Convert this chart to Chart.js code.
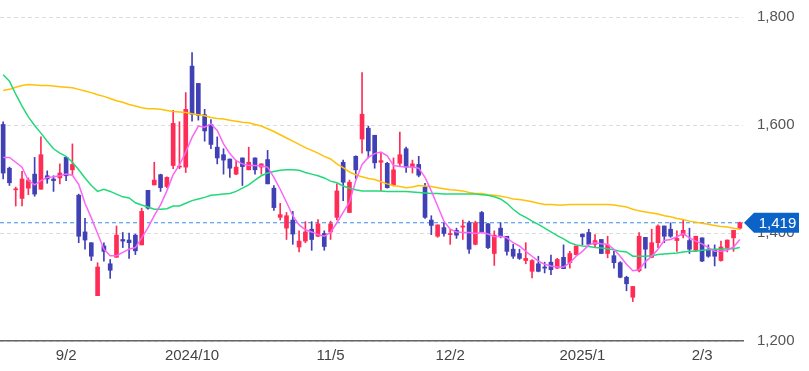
<!DOCTYPE html>
<html><head><meta charset="utf-8">
<script src="https://cdn.jsdelivr.net/npm/chart.js@4.4.1/dist/chart.umd.min.js"></script>
<style>html,body{margin:0;padding:0;background:#fff;}#wrap{width:809px;height:371px;}</style>
</head><body><div id="wrap"><canvas id="c" width="809" height="371"></canvas></div>
<script>
const openP = [
1601,1520,1480,1464,1483,1509,1481,1506,1500,1502,
1540,1517,1470,1402,1382,1284,1376,1343,1355,1388,
1387,1396,1378,1479,1489,1508,1486,1525,1522,1522,
1709,1677,1619,1601,1559,1545,1537,1509,1539,1517,
1539,1522,1536,1483,1429,1409,1424,1374,1385,1407,
1394,1399,1402,1429,1531,1438,1542,1574,1594,1581,
1531,1529,1489,1529,1556,1522,1527,1485,1424,1394,
1410,1397,1405,1411,1419,1379,1438,1417,1362,1409,
1394,1370,1362,1349,1329,1343,1337,1346,1335,1355,
1345,1360,1398,1401,1379,1388,1362,1358,1345,1318,
1281,1330,1392,1355,1382,1413,1407,1386,1396,1386,
1368,1391,1370,1370,1349,1373,1391,1409];
const highP = [
1606,1522,1485,1514,1502,1540,1578,1515,1506,1528,
1541,1565,1472,1427,1382,1345,1382,1351,1413,1401,
1400,1398,1446,1479,1531,1509,1504,1627,1606,1660,
1734,1677,1629,1610,1578,1556,1537,1534,1539,1559,
1539,1528,1553,1488,1455,1438,1440,1404,1421,1421,
1425,1404,1422,1491,1535,1498,1543,1697,1598,1581,
1548,1531,1539,1587,1559,1535,1542,1492,1432,1415,
1419,1407,1409,1424,1422,1422,1440,1418,1404,1419,
1394,1379,1370,1382,1351,1357,1346,1359,1353,1378,
1366,1376,1398,1407,1397,1388,1394,1366,1347,1320,
1301,1401,1392,1407,1415,1413,1419,1404,1425,1409,
1394,1391,1378,1378,1385,1387,1405,1420];
const lowP = [
1500,1488,1450,1450,1471,1468,1481,1492,1477,1491,
1497,1508,1382,1370,1349,1284,1348,1316,1355,1373,
1353,1360,1378,1444,1489,1477,1484,1519,1519,1512,
1607,1609,1570,1556,1528,1509,1503,1508,1488,1517,
1509,1509,1491,1442,1424,1388,1379,1365,1382,1368,
1393,1368,1388,1424,1460,1438,1501,1548,1539,1520,
1478,1483,1487,1523,1512,1511,1504,1427,1397,1392,
1394,1379,1390,1388,1362,1378,1400,1371,1340,1391,
1359,1353,1351,1343,1317,1328,1326,1323,1334,1334,
1335,1359,1378,1378,1373,1362,1354,1335,1317,1293,
1273,1328,1335,1354,1373,1382,1392,1366,1391,1362,
1366,1347,1355,1339,1348,1365,1366,1407];
const closeP = [
1511,1493,1481,1500,1498,1472,1545,1500,1497,1511,
1506,1527,1394,1387,1357,1337,1366,1331,1396,1385,
1382,1367,1440,1446,1498,1484,1503,1603,1524,1629,
1620,1618,1589,1564,1539,1535,1520,1522,1523,1531,
1517,1528,1491,1447,1434,1432,1398,1385,1402,1388,
1417,1375,1417,1478,1494,1494,1517,1620,1552,1530,
1534,1484,1517,1545,1522,1528,1507,1429,1414,1415,
1399,1399,1396,1413,1370,1419,1402,1373,1396,1394,
1366,1357,1353,1353,1349,1329,1335,1332,1351,1334,
1362,1376,1393,1379,1386,1362,1378,1345,1318,1306,
1301,1394,1370,1382,1413,1394,1394,1390,1405,1370,
1394,1348,1357,1357,1374,1387,1405,1419];
const ma5 = [
1540,1540,1531,1522,1497,1489,1497,1503,1504,1506,
1509,1507,1490,1455,1428,1399,1370,1358,1358,1364,
1370,1373,1391,1410,1432,1452,1478,1508,1526,1550,
1577,1598,1596,1602,1590,1565,1547,1534,1528,1525,
1525,1524,1522,1503,1481,1457,1432,1415,1406,1402,
1397,1394,1401,1419,1438,1457,1497,1527,1540,1547,
1550,1543,1525,1523,1522,1522,1520,1503,1478,1450,
1422,1407,1402,1401,1401,1399,1401,1398,1393,1394,
1391,1382,1376,1366,1357,1348,1342,1339,1337,1337,
1345,1357,1366,1378,1382,1380,1379,1370,1357,1342,
1330,1332,1347,1357,1370,1386,1388,1393,1399,1391,
1385,1380,1373,1366,1366,1368,1374,1388];
const ma25 = [
1693,1681,1657,1635,1615,1599,1585,1570,1556,1548,
1542,1531,1517,1502,1488,1477,1481,1477,1472,1467,
1465,1456,1452,1448,1444,1444,1445,1450,1450,1455,
1460,1463,1466,1470,1471,1472,1473,1477,1483,1489,
1498,1506,1511,1514,1516,1517,1517,1516,1512,1509,
1506,1502,1496,1493,1487,1483,1480,1478,1478,1478,
1478,1477,1477,1477,1477,1476,1475,1474,1473,1473,
1472,1472,1472,1472,1472,1472,1471,1470,1467,1463,
1455,1444,1435,1429,1422,1416,1409,1402,1395,1389,
1382,1378,1376,1375,1373,1372,1371,1369,1366,1365,
1357,1357,1357,1358,1360,1361,1362,1363,1365,1366,
1366,1368,1369,1370,1370,1371,1371,1373];
const ma75 = [
1664,1666,1670,1673,1675,1674,1673,1673,1672,1671,
1670,1669,1666,1663,1660,1656,1653,1649,1645,1642,
1638,1635,1632,1630,1630,1629,1627,1625,1624,1623,
1621,1619,1617,1614,1612,1611,1609,1607,1605,1604,
1601,1598,1593,1588,1582,1576,1570,1564,1558,1553,
1548,1542,1537,1528,1521,1513,1508,1504,1501,1499,
1495,1491,1488,1486,1484,1485,1488,1487,1486,1484,
1482,1480,1479,1478,1475,1473,1473,1471,1470,1468,
1466,1463,1462,1460,1458,1455,1453,1453,1452,1452,
1453,1453,1453,1453,1453,1453,1453,1452,1450,1448,
1444,1441,1439,1437,1435,1432,1430,1427,1425,1422,
1420,1418,1416,1414,1412,1411,1409,1407];
const tickIndex = [10, 30, 52, 71, 92, 111];
const tickText = ['9/2', '2024/10', '11/5', '12/2', '2025/1', '2/3'];
const yTicks = [1200, 1400, 1600, 1800];
const lastPrice = 1419;

const UP = '#ff2d55', DOWN = '#4141b6';
const categories = openP.map((_, i) => {
  const k = tickIndex.indexOf(i);
  return k >= 0 ? tickText[k] : '';
});
const candleColor = ctx => closeP[ctx.dataIndex] >= openP[ctx.dataIndex] ? UP : DOWN;

const lastPricePlugin = {
  id: 'lastPrice',
  beforeDatasetsDraw(chart) {
    const {ctx, chartArea} = chart;
    const y = chart.scales.y.getPixelForValue(lastPrice);
    ctx.save();
    ctx.strokeStyle = '#3b8df0';
    ctx.lineWidth = 1.2;
    ctx.setLineDash([4, 3]);
    ctx.beginPath();
    ctx.moveTo(chartArea.left, y);
    ctx.lineTo(chartArea.right, y);
    ctx.stroke();
    ctx.restore();
  },
  afterDraw(chart) {
    const {ctx, chartArea} = chart;
    const y = chart.scales.y.getPixelForValue(lastPrice);
    const x0 = chartArea.right + 1, x1 = x0 + 10, x2 = 799, h = 10;
    ctx.save();
    ctx.fillStyle = '#0b63c8';
    ctx.beginPath();
    ctx.moveTo(x0, y);
    ctx.lineTo(x1, y - h);
    ctx.lineTo(x2, y - h);
    ctx.lineTo(x2, y + h);
    ctx.lineTo(x1, y + h);
    ctx.closePath();
    ctx.fill();
    ctx.fillStyle = '#fff';
    ctx.font = '15px "Liberation Sans", Arial, sans-serif';
    ctx.textAlign = 'center';
    ctx.textBaseline = 'middle';
    ctx.fillText(lastPrice.toLocaleString('en-US'), (x1 + x2) / 2 + 1, y + 1);
    ctx.restore();
  }
};

new Chart(document.getElementById('c'), {
  type: 'bar',
  data: {
    labels: categories,
    datasets: [
      {type: 'line', data: ma5, borderColor: '#fb66f6', borderWidth: 1.5, pointRadius: 0, tension: 0, order: 0},
      {type: 'line', data: ma25, borderColor: '#22d97a', borderWidth: 1.5, pointRadius: 0, tension: 0, order: 0},
      {type: 'line', data: ma75, borderColor: '#ffc107', borderWidth: 1.5, pointRadius: 0, tension: 0, order: 0},
      {type: 'bar', data: openP.map((o, i) => [o, closeP[i]]), backgroundColor: candleColor,
       barThickness: 4, grouped: false, minBarLength: 1, borderWidth: 0, order: 1},
      {type: 'bar', data: lowP.map((l, i) => [l, highP[i]]), backgroundColor: candleColor,
       barThickness: 1, grouped: false, borderWidth: 0, order: 2}
    ]
  },
  options: {
    responsive: false,
    animation: false,
    devicePixelRatio: 1,
    layout: {padding: {top: 17, left: 0, right: 0, bottom: 0}},
    plugins: {legend: {display: false}, tooltip: {enabled: false}},
    scales: {
      x: {
        type: 'category',
        offset: true,
        grid: {display: true, drawOnChartArea: false, drawTicks: false},
        border: {display: true, color: '#666', width: 1.5},
        ticks: {
          autoSkip: false, maxRotation: 0, minRotation: 0, padding: 6,
          color: '#444', font: {family: '"Liberation Sans", Arial, sans-serif', size: 15}
        },
        afterFit(s) { s.height = 30; s.paddingLeft = 0; s.paddingRight = 0; }
      },
      y: {
        position: 'right',
        min: 1200, max: 1800,
        grid: {color: '#dcdcdc', lineWidth: 1, drawTicks: false},
        border: {display: false, dash: [4, 3]},
        afterBuildTicks(s) { s.ticks = yTicks.map(v => ({value: v})); },
        ticks: {
          padding: 14, color: '#555',
          font: {family: '"Liberation Sans", Arial, sans-serif', size: 15},
          callback: v => Number(v).toLocaleString('en-US')
        },
        afterFit(s) { s.width = 66; s.paddingTop = 0; s.paddingBottom = 0; }
      }
    }
  },
  plugins: [lastPricePlugin]
});
</script>
</body></html>
